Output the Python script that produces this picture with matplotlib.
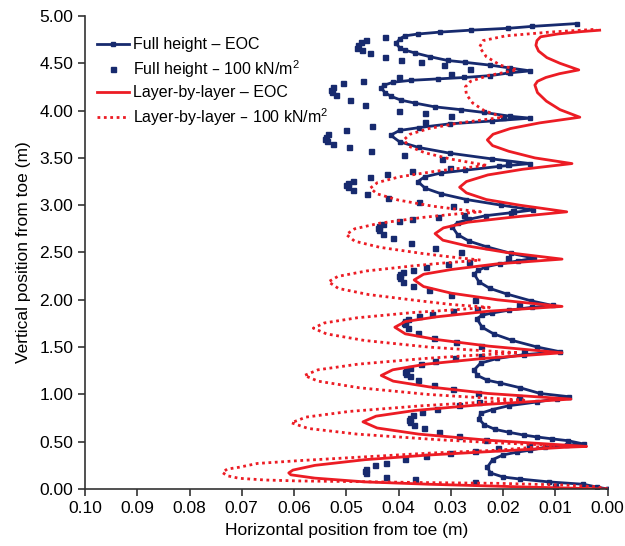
import matplotlib.pyplot as plt
from matplotlib.ticker import FormatStrFormatter, MultipleLocator

plt.rcParams['font.family'] = ['Liberation Sans', 'DejaVu Sans']
plt.rcParams['mathtext.default'] = 'regular'

# Wall face profiles, one row per 0.5 m lift (vertical position, horizontal displacement)
full_eoc_y = [
    0.00, 0.02, 0.05, 0.075, 0.105, 0.127, 0.17, 0.23, 0.31, 0.36, 0.39, 0.41, 0.44, 0.465, 0.475,
    0.51, 0.53, 0.55, 0.57, 0.60, 0.63, 0.68, 0.74, 0.80, 0.84, 0.88, 0.92, 0.955, 0.975,
    1.01, 1.07, 1.12, 1.15, 1.20, 1.26, 1.33, 1.38, 1.42, 1.45,
    1.50, 1.57, 1.64, 1.71, 1.80, 1.835, 1.86, 1.89, 1.92, 1.94,
    1.99, 2.06, 2.12, 2.19, 2.27, 2.31, 2.35, 2.38, 2.41, 2.44,
    2.49, 2.56, 2.62, 2.69, 2.77, 2.815, 2.85, 2.89, 2.92, 2.95,
    3.00, 3.06, 3.12, 3.18, 3.25, 3.30, 3.34, 3.37, 3.41, 3.44,
    3.49, 3.55, 3.61, 3.67, 3.74, 3.79, 3.82, 3.86, 3.89, 3.92,
    3.94, 3.98, 4.01, 4.04, 4.08, 4.11, 4.15, 4.19, 4.24, 4.27, 4.30, 4.32, 4.335, 4.35, 4.37, 4.40, 4.42,
    4.45, 4.48, 4.51, 4.53, 4.57, 4.61, 4.64, 4.66, 4.71, 4.76, 4.79, 4.81, 4.83, 4.85, 4.87, 4.89, 4.92,
]
full_eoc_x = [
    0.0000, 0.0020, 0.0046, 0.0112, 0.0167, 0.0200, 0.0224, 0.0230, 0.0220, 0.0200, 0.0173, 0.0148, 0.0120, 0.0078, 0.0045,
    0.0075, 0.0106, 0.0135, 0.0160, 0.0189, 0.0215, 0.0236, 0.0246, 0.0243, 0.0220, 0.0189, 0.0135, 0.0097, 0.0073,
    0.0129, 0.0167, 0.0205, 0.0230, 0.0249, 0.0255, 0.0243, 0.0211, 0.0160, 0.0090,
    0.0134, 0.0182, 0.0218, 0.0240, 0.0250, 0.0241, 0.0221, 0.0189, 0.0145, 0.0105,
    0.0147, 0.0192, 0.0225, 0.0246, 0.0255, 0.0248, 0.0232, 0.0206, 0.0172, 0.0140,
    0.0184, 0.0231, 0.0265, 0.0287, 0.0297, 0.0287, 0.0266, 0.0232, 0.0185, 0.0142,
    0.0203, 0.0270, 0.0318, 0.0349, 0.0363, 0.0350, 0.0319, 0.0272, 0.0208, 0.0148,
    0.0222, 0.0302, 0.0361, 0.0398, 0.0415, 0.0398, 0.0361, 0.0302, 0.0222, 0.0148,
    0.0186, 0.0236, 0.0281, 0.0331, 0.0369, 0.0395, 0.0414, 0.0426, 0.0433, 0.0427, 0.0410, 0.0376, 0.0325, 0.0274, 0.0224, 0.0186, 0.0148,
    0.0186, 0.0224, 0.0272, 0.0306, 0.0340, 0.0369, 0.0388, 0.0397, 0.0405, 0.0397, 0.0388, 0.0362, 0.0320, 0.0262, 0.0190, 0.0145, 0.0059,
]

full_100_y = [
    0.00, 0.03, 0.07, 0.105, 0.13, 0.17, 0.19, 0.21, 0.25, 0.27, 0.32, 0.35, 0.38, 0.40, 0.43, 0.47,
    0.52, 0.56, 0.60, 0.64, 0.68, 0.71, 0.73, 0.75, 0.78, 0.81, 0.85, 0.89, 0.92, 0.97,
    1.02, 1.06, 1.10, 1.15, 1.19, 1.22, 1.24, 1.26, 1.28, 1.32, 1.35, 1.38, 1.41, 1.45,
    1.51, 1.55, 1.60, 1.65, 1.70, 1.74, 1.76, 1.78, 1.80, 1.83, 1.85, 1.88, 1.90, 1.94,
    2.00, 2.05, 2.10, 2.15, 2.19, 2.23, 2.25, 2.27, 2.29, 2.32, 2.35, 2.38, 2.40, 2.44,
    2.50, 2.55, 2.60, 2.65, 2.70, 2.74, 2.76, 2.78, 2.80, 2.83, 2.85, 2.88, 2.90, 2.94,
    2.99, 3.03, 3.08, 3.12, 3.16, 3.19, 3.21, 3.23, 3.26, 3.30, 3.33, 3.36, 3.39, 3.44,
    3.49, 3.53, 3.57, 3.61, 3.65, 3.68, 3.70, 3.72, 3.75, 3.80, 3.84, 3.88, 3.93,
    3.94, 3.97, 4.00, 4.06, 4.11, 4.16, 4.20, 4.22, 4.25, 4.29, 4.31, 4.35, 4.39, 4.42,
    4.44, 4.48, 4.51, 4.53, 4.57, 4.61, 4.64, 4.66, 4.69, 4.72, 4.75, 4.78,
]
full_100_x = [
    0.0000, 0.0100, 0.0253, 0.0369, 0.0424, 0.0463, 0.0465, 0.0462, 0.0445, 0.0424, 0.0388, 0.0348, 0.0302, 0.0253, 0.0210, 0.0150,
    0.0233, 0.0285, 0.0322, 0.0352, 0.0371, 0.0378, 0.0380, 0.0378, 0.0372, 0.0355, 0.0327, 0.0285, 0.0246, 0.0170,
    0.0248, 0.0295, 0.0333, 0.0362, 0.0378, 0.0385, 0.0387, 0.0385, 0.0378, 0.0357, 0.0330, 0.0292, 0.0242, 0.0160,
    0.0243, 0.0290, 0.0332, 0.0362, 0.0381, 0.0388, 0.0390, 0.0388, 0.0381, 0.0360, 0.0335, 0.0295, 0.0249, 0.0170,
    0.0253, 0.0300, 0.0342, 0.0372, 0.0391, 0.0398, 0.0400, 0.0398, 0.0392, 0.0372, 0.0347, 0.0305, 0.0266, 0.0190,
    0.0280, 0.0330, 0.0377, 0.0410, 0.0430, 0.0438, 0.0440, 0.0438, 0.0430, 0.0400, 0.0375, 0.0325, 0.0274, 0.0180,
    0.0295, 0.0360, 0.0420, 0.0460, 0.0487, 0.0497, 0.0500, 0.0497, 0.0488, 0.0455, 0.0422, 0.0375, 0.0302, 0.0190,
    0.0316, 0.0390, 0.0452, 0.0495, 0.0526, 0.0537, 0.0540, 0.0538, 0.0535, 0.0500, 0.0450, 0.0350, 0.0200,
    0.0300, 0.0350, 0.0400, 0.0464, 0.0492, 0.0519, 0.0528, 0.0530, 0.0525, 0.0506, 0.0468, 0.0400, 0.0300, 0.0190,
    0.0264, 0.0312, 0.0357, 0.0395, 0.0426, 0.0455, 0.0470, 0.0480, 0.0478, 0.0472, 0.0462, 0.0426,
]

layer_eoc_y = [
    0.00, 0.02, 0.05, 0.075, 0.115, 0.15, 0.17, 0.20, 0.25, 0.31, 0.36, 0.40, 0.44, 0.45,
    0.515, 0.58, 0.645, 0.71, 0.77, 0.83, 0.89, 0.95,
    1.01, 1.08, 1.14, 1.20, 1.26, 1.32, 1.38, 1.44,
    1.51, 1.58, 1.64, 1.71, 1.77, 1.82, 1.88, 1.93,
    2.00, 2.07, 2.14, 2.21, 2.27, 2.32, 2.38, 2.43,
    2.50, 2.57, 2.63, 2.70, 2.76, 2.82, 2.87, 2.93,
    3.00, 3.06, 3.13, 3.19, 3.25, 3.32, 3.38, 3.44,
    3.50, 3.57, 3.63, 3.69, 3.75, 3.81, 3.87, 3.93,
    4.01, 4.10, 4.19, 4.27, 4.31, 4.35, 4.39, 4.43,
    4.50, 4.56, 4.63, 4.69, 4.74, 4.78, 4.81, 4.835, 4.85,
]
layer_eoc_x = [
    0.0000, 0.0150, 0.0340, 0.0464, 0.0560, 0.0606, 0.0610, 0.0602, 0.0560, 0.0464, 0.0340, 0.0210, 0.0084, 0.0040,
    0.0227, 0.0361, 0.0441, 0.0468, 0.0443, 0.0369, 0.0244, 0.0070,
    0.0229, 0.0342, 0.0410, 0.0433, 0.0411, 0.0347, 0.0238, 0.0087,
    0.0227, 0.0327, 0.0387, 0.0407, 0.0387, 0.0327, 0.0227, 0.0087,
    0.0211, 0.0299, 0.0352, 0.0370, 0.0352, 0.0299, 0.0211, 0.0087,
    0.0193, 0.0269, 0.0315, 0.0330, 0.0314, 0.0267, 0.0188, 0.0078,
    0.0168, 0.0232, 0.0270, 0.0283, 0.0270, 0.0229, 0.0162, 0.0068,
    0.0139, 0.0189, 0.0220, 0.0230, 0.0219, 0.0186, 0.0130, 0.0053,
    0.0091, 0.0117, 0.0134, 0.0139, 0.0134, 0.0118, 0.0092, 0.0055,
    0.0091, 0.0116, 0.0132, 0.0137, 0.0135, 0.0128, 0.0095, 0.0050, 0.0015,
]

layer_100_y = [
    0.00, 0.024, 0.042, 0.060, 0.067, 0.077, 0.085, 0.095, 0.113, 0.14, 0.175, 0.21, 0.23, 0.27, 0.30, 0.34, 0.38, 0.41, 0.46,
    0.49, 0.52, 0.58, 0.64, 0.70, 0.76, 0.82, 0.88, 0.91, 0.94,
    0.97, 1.00, 1.07, 1.14, 1.20, 1.26, 1.32, 1.38, 1.41, 1.44,
    1.47, 1.50, 1.57, 1.64, 1.70, 1.755, 1.81, 1.865, 1.89, 1.92,
    1.95, 1.99, 2.055, 2.12, 2.19, 2.2475, 2.305, 2.36, 2.39, 2.42,
    2.455, 2.49, 2.555, 2.62, 2.69, 2.75, 2.81, 2.87, 2.90, 2.93,
    2.96, 2.99, 3.055, 3.12, 3.18, 3.24, 3.30, 3.36, 3.39, 3.42,
    3.4875, 3.555, 3.6225, 3.69, 3.75, 3.81, 3.87, 3.93,
    4.00, 4.08, 4.17, 4.25, 4.31, 4.37, 4.43,
    4.48, 4.57, 4.67, 4.74, 4.79, 4.83, 4.86,
]
layer_100_x = [
    0.0000, 0.0021, 0.0084, 0.0211, 0.0338, 0.0464, 0.0591, 0.0655, 0.0705, 0.0728, 0.0737, 0.0728, 0.0705, 0.0670, 0.0590, 0.0464, 0.0338, 0.0210, 0.0100,
    0.0218, 0.0321, 0.0479, 0.0573, 0.0605, 0.0577, 0.0494, 0.0355, 0.0264, 0.0160,
    0.0258, 0.0344, 0.0475, 0.0554, 0.0580, 0.0554, 0.0477, 0.0349, 0.0266, 0.0170,
    0.0262, 0.0342, 0.0465, 0.0538, 0.0563, 0.0542, 0.0479, 0.0373, 0.0305, 0.0226,
    0.0298, 0.0361, 0.0457, 0.0515, 0.0534, 0.0516, 0.0461, 0.0370, 0.0311, 0.0243,
    0.0303, 0.0355, 0.0436, 0.0484, 0.0500, 0.0484, 0.0436, 0.0355, 0.0303, 0.0243,
    0.0292, 0.0335, 0.0401, 0.0441, 0.0454, 0.0440, 0.0398, 0.0328, 0.0282, 0.0230,
    0.0300, 0.0350, 0.0380, 0.0390, 0.0378, 0.0342, 0.0283, 0.0200,
    0.0236, 0.0258, 0.0270, 0.0272, 0.0262, 0.0228, 0.0173,
    0.0205, 0.0232, 0.0245, 0.0238, 0.0195, 0.0110, 0.0020,
]

navy = '#172a6e'
red = '#ec1c24'

fig = plt.figure(figsize=(6.25, 5.46), dpi=100)
ax = fig.add_axes([0.136, 0.1044, 0.836, 0.8663])

ax.plot(full_eoc_x, full_eoc_y, color=navy, lw=2, marker='s', ms=3.2,
        label='Full height – EOC')
ax.plot(full_100_x, full_100_y, ls='none', marker='s', ms=3.6, color=navy,
        label='Full height – 100 kN/m$^2$')
ax.plot(layer_eoc_x, layer_eoc_y, color=red, lw=2,
        label='Layer-by-layer – EOC')
ax.plot(layer_100_x, layer_100_y, color=red, lw=2, ls=(0, (1, 1.3)),
        label='Layer-by-layer – 100 kN/m$^2$')

ax.set_xlim(0.10, 0.00)
ax.set_ylim(0.0, 5.0)
ax.xaxis.set_major_locator(MultipleLocator(0.01))
ax.yaxis.set_major_locator(MultipleLocator(0.5))
ax.xaxis.set_major_formatter(FormatStrFormatter('%.2f'))
ax.yaxis.set_major_formatter(FormatStrFormatter('%.2f'))

for side in ['top', 'right']:
    ax.spines[side].set_visible(False)
for side in ['left', 'bottom']:
    ax.spines[side].set_color('#333333')
    ax.spines[side].set_linewidth(1.2)
ax.tick_params(direction='out', length=5, width=1.2, color='#333333', labelsize=12.5)

ax.set_xlabel('Horizontal position from toe (m)', fontsize=12.5, labelpad=5)
ax.set_ylabel('Vertical position from toe (m)', fontsize=12.5, labelpad=6)

ax.legend(loc='upper left', bbox_to_anchor=(-0.005, 0.985), frameon=False,
          fontsize=11.5, handlelength=2.0, handletextpad=0.25, labelspacing=0.35,
          numpoints=1)

fig.savefig('out.png', dpi=100)
